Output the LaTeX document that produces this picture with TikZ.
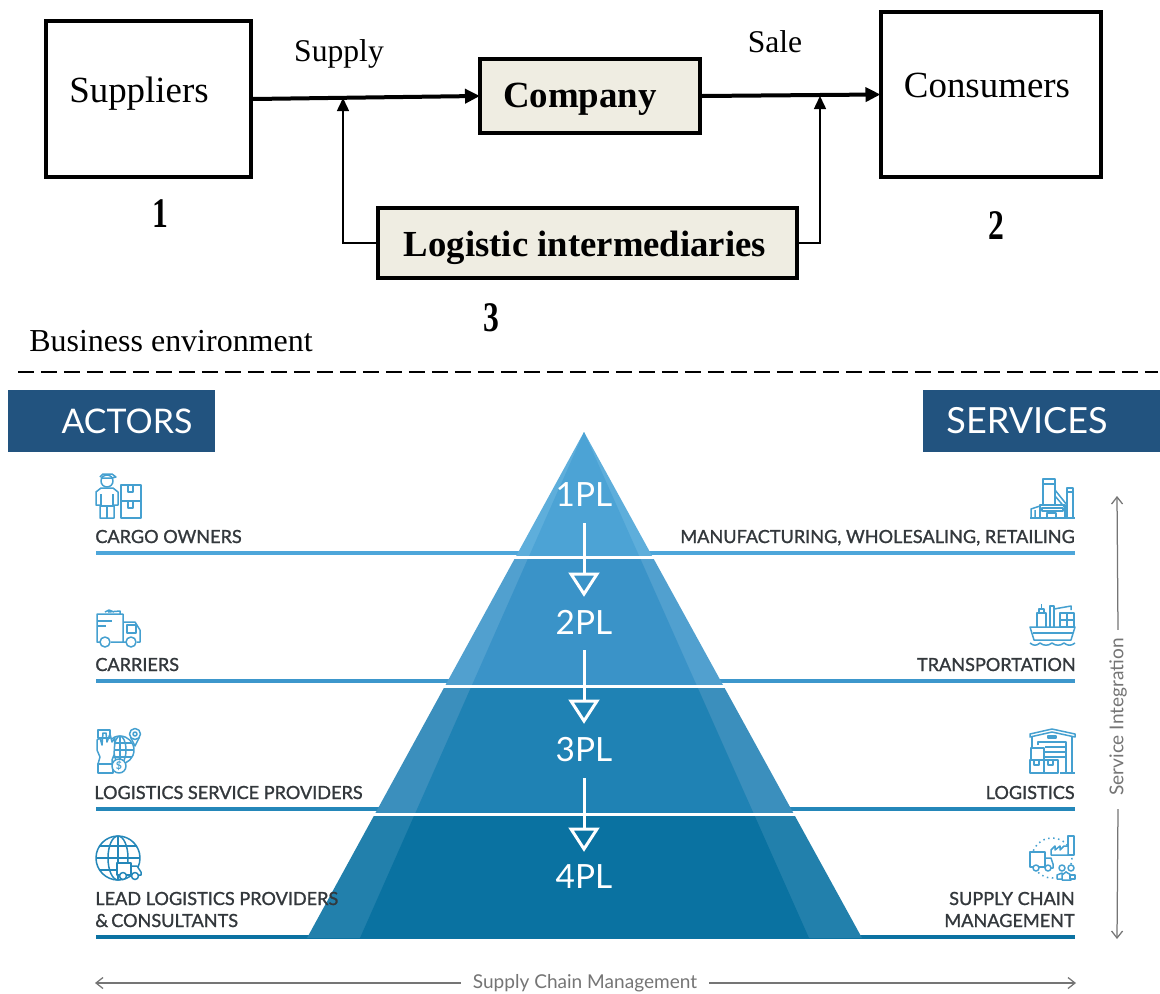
\documentclass[tikz,border=0pt]{standalone}
\usepackage{fontspec}
\usetikzlibrary{arrows.meta,calc}
\setmainfont{Liberation Serif}
\newfontfamily\latofont{Lato}
\newfontfamily\latomed[FakeBold=1.2]{Lato}
\definecolor{hdr}{HTML}{22537F}
\definecolor{boxfill}{HTML}{EFEDE2}
\definecolor{icn}{HTML}{45A0D0}
\definecolor{txt}{HTML}{33383C}
\definecolor{gry}{HTML}{757575}
\definecolor{lineA}{HTML}{4DA6DA}
\definecolor{lineB}{HTML}{3D97CC}
\definecolor{lineC}{HTML}{2487B9}
\definecolor{lineD}{HTML}{0B72A2}
\definecolor{outA}{HTML}{5EAEDB}
\definecolor{inA}{HTML}{4CA3D5}
\definecolor{outB}{HTML}{51A0CF}
\definecolor{inB}{HTML}{3A93C8}
\definecolor{outC}{HTML}{3B8FBD}
\definecolor{inC}{HTML}{1F82B4}
\definecolor{outD}{HTML}{2280AC}
\definecolor{inD}{HTML}{0A72A1}
\tikzset{
  x=0.02cm,y=-0.02cm,
  plainbox/.style={draw=black,line width=0.08cm,fill=white,inner sep=0pt,align=center},
  palebox/.style={plainbox,fill=boxfill,font=\fontsize{21}{25}\selectfont\bfseries},
  serifbig/.style={font=\fontsize{21}{25}\selectfont,inner sep=0pt},
  serifmid/.style={font=\fontsize{18}{22}\selectfont,inner sep=0pt},
  numeral/.style={font=\fontsize{24}{28}\selectfont\bfseries,inner sep=0pt,xscale=0.75},
  thickarrow/.style={line width=0.08cm,shorten >=-0.04cm,-{Triangle[length=0.3cm,width=0.28cm]}},
  thinarrow/.style={line width=0.03cm,-{Triangle[length=0.26cm,width=0.24cm]}},
  header/.style={fill=hdr,draw=none},
  headertext/.style={text=white,font=\latofont\fontsize{20.5}{24}\selectfont,inner sep=0pt},
  pltext/.style={text=white,font=\latofont\fontsize{19}{24}\selectfont,inner sep=0pt},
  label/.style={text=txt,font=\latomed\fontsize{10.3}{12}\selectfont,inner sep=0pt},
  rule/.style={line width=0.08cm},
  icon/.style={draw=icn,line width=0.03cm,line join=round},
  whitearrow/.style={draw=white,line width=0.06cm,line join=miter},
  grayarrow/.style={draw=gry,line width=0.025cm,-{Straight Barb[length=0.14cm,width=0.22cm]}},
  graytext/.style={text=gry,font=\latofont\fontsize{10.85}{12}\selectfont,inner sep=0pt}
}
\newcommand{\pyrband}[4]{%
  \begin{scope}
    \clip (0,#1) rectangle (1160,#2);
    \fill[#3] (584,432) -- (307,938) -- (862,938) -- cycle;
    \fill[#4] (584,432) -- (360,938) -- (809,938) -- cycle;
  \end{scope}}
\newcommand{\whitedown}[2]{%
  \draw[whitearrow] (584,#1) -- (584,#2);
  \draw[whitearrow] (571,#2) -- (597,#2) -- (584,#2+20) -- cycle;}
\begin{document}
\begin{tikzpicture}
\useasboundingbox (0,0) rectangle (1160,994);
\fill[white] (0,0) rectangle (1160,994);

% top flow diagram
\node[plainbox,minimum width=0.02cm*205,minimum height=0.02cm*156,serifbig] (sup) at (148.5,99) {};
\node[serifbig,anchor=center] (suptext) at (139,93.5) {Suppliers};
\node[plainbox,minimum width=0.02cm*220,minimum height=0.02cm*165] (con) at (990.5,94.5) {};
\node[serifbig] (context) at (987,85) {Consumers};
\node[palebox,minimum width=0.02cm*220,minimum height=0.02cm*74] (comp) at (590,96) {};
\node[font=\fontsize{21}{25}\selectfont\bfseries,inner sep=0pt] (comptext) at (580,99) {Company};
\node[palebox,minimum width=0.02cm*419,minimum height=0.02cm*70] (log) at (587.5,243) {};
\node[font=\fontsize{20.9}{25}\selectfont\bfseries,inner sep=0pt] (logtext) at (585,248) {Logistic intermediaries};
\coordinate (ja) at (343,98);
\coordinate (jb) at (820,96);
\draw[thickarrow] (sup.east) -- (comp.west);
\draw[thickarrow] (comp.east) -- (con.west);
\draw[thinarrow] (log.west) -| (ja);
\draw[thinarrow] (log.east) -| (jb);
\node[serifmid] (lsupply) at (339,54) {Supply};
\node[serifmid] (lsale) at (775,42) {Sale};
\node[numeral] (n1) at (160,214) {1};
\node[numeral] (n2) at (996,226) {2};
\node[numeral] (n3) at (491,318) {3};
\node[font=\fontsize{18.2}{22}\selectfont,inner sep=0pt,anchor=base west] (env) at (29,351) {Business environment};
\coordinate (da) at (18,372);
\coordinate (db) at (1158,372);
\draw[line width=0.03cm,dash pattern=on 0.33cm off 0.13cm] (da) -- (db);

% headers
\fill[header] (8,390) rectangle (215,452);
\fill[header] (923,390) rectangle (1160,452);
\node[headertext,font=\latofont\fontsize{19.3}{24}\selectfont] (hact) at (127,421) {ACTORS};
\node[headertext] (hser) at (1027,421) {SERVICES};

% rules
\draw[rule,lineA] (96,553) -- (1075,553);
\draw[rule,lineB] (96,681) -- (1075,681);
\draw[rule,lineC] (96,809) -- (1075,809);
\draw[rule,lineD] (96,937) -- (1075,937);

% pyramid
\pyrband{431}{555}{outA}{inA}
\pyrband{559}{684}{outB}{inB}
\pyrband{688}{812}{outC}{inC}
\pyrband{816}{939}{outD}{inD}
\node[pltext] (p1) at (584,495) {1PL};
\node[pltext] (p2) at (584,622) {2PL};
\node[pltext] (p3) at (584,750) {3PL};
\node[pltext] (p4) at (584,877) {4PL};
\whitedown{523}{574}
\whitedown{650}{701}
\whitedown{778}{829}

% left labels
\node[label,anchor=base west] (a1) at (95,543) {CARGO OWNERS};
\node[label,anchor=base west] (a2) at (95,671) {CARRIERS};
\node[label,anchor=base west] (a3) at (94,799) {LOGISTICS SERVICE PROVIDERS};
\node[label,anchor=base west] (a4) at (95,905) {LEAD LOGISTICS PROVIDERS};
\node[label,anchor=base west] (a5) at (95,927) {\&\,CONSULTANTS};
% right labels
\node[label,anchor=base east] (s1) at (1075,543) {MANUFACTURING, WHOLESALING, RETAILING};
\node[label,anchor=base east] (s2) at (1076,671) {TRANSPORTATION};
\node[label,anchor=base east] (s3) at (1075,799) {LOGISTICS};
\node[label,anchor=base east] (s4) at (1075,905) {SUPPLY CHAIN};
\node[label,anchor=base east] (s5) at (1075,927) {MANAGEMENT};

% side axes
\node[graytext,rotate=90] (vint) at (1118,717) {Service Integration};
\node[graytext] (hsc) at (585,983) {Supply Chain Management};
\coordinate (vt) at (1117,496);
\coordinate (vb) at (1117,939);
\coordinate (hl) at (95,983);
\coordinate (hr) at (1076,983);
\draw[grayarrow] (vint.east) ++(0,-8) -- (vt);
\draw[grayarrow] (vint.west) ++(0,13) -- (vb);
\draw[grayarrow] (hsc.west) ++(-12,0) -- (hl);
\draw[grayarrow] (hsc.east) ++(12,0) -- (hr);

% icon: cargo owner
\begin{scope}[icon]
  \draw (107,481) circle (6);
  \draw (100,477) -- (103,474) -- (112,474) -- (116,477) -- (112,478) -- (101,478);
  \draw (101,488) -- (113,488) -- (118,492) -- (118,505) -- (114,505) -- (114,518) -- (100,518) -- (100,505) -- (96,505) -- (96,492) -- cycle;
  \draw (101,494) -- (101,505) (113,494) -- (113,505) (107,506) -- (107,518) (100,506) -- (114,506);
  \draw (121,485) rectangle (141,501);
  \draw (121,501) rectangle (141,518);
  \draw (128,485) -- (128,492) -- (133,492) -- (133,485);
  \draw (128,501) -- (128,508) -- (133,508) -- (133,501);
\end{scope}
% icon: truck
\begin{scope}[icon]
  \draw (100,642) -- (97,642) -- (97,614) -- (123,614) -- (123,642) (111,642) -- (126,642) (137,642) -- (140,642) -- (140,630) -- (135,622) -- (123,622);
  \draw (105,612) -- (109,610) -- (114,612) (108,612) -- (120,611) -- (120,614);
  \draw (127,625) rectangle (136,633);
  \draw (97,621) -- (112,621) (97,626) -- (106,626);
  \draw (105,642) circle (5);
  \draw (131,642) circle (5);
\end{scope}
% icon: logistics service
\begin{scope}[icon]
  \draw (120,750) circle (14);
  \draw (120,750) ellipse (6 and 14);
  \draw (106,750) -- (134,750) (108,743) -- (132,743) (108,757) -- (132,757) (120,736) -- (120,764);
  \fill[white,draw=icn] (100,757) -- (97,750) -- (97,740) -- (100,738) -- (102,745) -- (103,733) -- (106,733) -- (107,742) -- (110,734) -- (112,742) -- (115,738) -- (114,755) -- (112,760) -- (112,764) -- (98,764) -- cycle;
  \draw (98,764) rectangle (113,773);
  \draw[fill=white] (119,766) circle (7);
  \node[text=icn,font=\latofont\fontsize{6}{6}\selectfont\bfseries,inner sep=0pt] (dollar) at (119,766) {\$};
  \draw (135,734) circle (5.5);
  \draw (135,734) circle (2);
  \draw (130.5,737) -- (135,746) -- (139.5,737);
  \draw (98,730) rectangle (110,738);
\end{scope}
% icon: global truck
\begin{scope}[draw=lineC,line width=0.03cm,line join=round]
  \draw (118,858) circle (22);
  \draw (118,858) ellipse (10 and 22);
  \draw (118,836) -- (118,880) (96,858) -- (140,858) (100,846) -- (136,846) (100,870) -- (116,870);
  \draw[fill=white] (117,863) rectangle (131,875);
  \draw[fill=white] (131,866) -- (137,866) -- (141,872) -- (141,875) -- (131,875) -- cycle;
  \draw[fill=white] (123,876) circle (3.5);
  \draw[fill=white] (135,876) circle (3.5);
\end{scope}
% icon: factory
\begin{scope}[icon]
  \draw (1030,518) -- (1075,518);
  \draw (1043,479) rectangle (1055,505);
  \draw (1043,484) -- (1055,484);
  \draw (1067,488) rectangle (1073,518);
  \draw (1066,492) -- (1074,492);
  \draw (1055,490) -- (1067,505) (1055,496) -- (1067,510);
  \draw (1040,518) -- (1040,505) -- (1065,505) -- (1065,518);
  \draw (1042,508) rectangle (1063,511);
  \draw (1047,518) rectangle (1056,513);
  \draw (1031,518) -- (1031,509) -- (1040,506) (1035,518) -- (1035,510);
\end{scope}
% icon: ship
\begin{scope}[icon]
  \draw (1030,627) -- (1075,627) -- (1071,640) -- (1034,640) -- cycle;
  \draw (1033,633) -- (1073,633);
  \draw (1037,627) -- (1037,613) -- (1046,613) -- (1046,627) (1039,613) -- (1039,609) -- (1044,609) -- (1044,613) (1041.5,609) -- (1041.5,604);
  \draw (1050,627) -- (1050,606) -- (1054,606) -- (1054,627);
  \draw (1054,609) -- (1071,606) -- (1071,610);
  \draw (1060,620) rectangle (1074,627);
  \draw (1060,613) rectangle (1074,620);
  \draw (1067,613) -- (1067,627);
  \draw (1030,643) .. controls (1034,646) and (1036,646) .. (1040,643) .. controls (1044,646) and (1048,646) .. (1052,643) .. controls (1056,646) and (1060,646) .. (1064,643) .. controls (1068,646) and (1071,646) .. (1075,643);
\end{scope}
% icon: warehouse
\begin{scope}[icon]
  \draw (1030,734) -- (1052,729) -- (1075,734) -- (1075,737) -- (1052,732) -- (1030,737) -- cycle;
  \draw (1032,737) -- (1032,748) (1072,736) -- (1072,773);
  \draw (1048,736) rectangle (1056,738);
  \draw (1038,745) -- (1038,742) -- (1066,742) -- (1066,773);
  \draw (1045,747) -- (1066,747) (1045,752) -- (1066,752) (1045,757) -- (1066,757) (1060,773) -- (1075,773);
  \draw (1030,760) rectangle (1044,773);
  \draw (1044,760) rectangle (1058,773);
  \draw (1031,748) rectangle (1044,760);
  \draw (1034,760) -- (1034,765) -- (1039,765) -- (1039,760);
  \draw (1048,760) -- (1048,765) -- (1053,765) -- (1053,760);
\end{scope}
% icon: supply chain
\begin{scope}[icon]
  \draw[dotted] (1052,858) circle (20);
  \draw[fill=white] (1030,852) rectangle (1045,867);
  \draw[fill=white] (1045,858) -- (1051,858) -- (1053,864) -- (1053,868) -- (1045,868) -- cycle;
  \draw[fill=white] (1036,868) circle (3);
  \draw[fill=white] (1048,868) circle (3);
  \draw[fill=white] (1068,836) rectangle (1074,855);
  \draw[fill=white] (1051,855) -- (1051,850) -- (1055,846) -- (1055,850) -- (1060,846) -- (1060,850) -- (1064,846) -- (1068,846) -- (1068,855) -- cycle;
  \draw[fill=white] (1062,868) circle (3);
  \draw[fill=white] (1071,868) circle (3);
  \draw[fill=white] (1062,880) -- (1062,875) -- (1066,872) -- (1071,875) -- (1071,880) -- cycle;
  \draw[fill=white] (1057,879) -- (1057,875) -- (1062,873) -- (1062,879) -- cycle;
  \draw[fill=white] (1070,879) -- (1070,875) -- (1075,875) -- (1075,879) -- cycle;
\end{scope}
\end{tikzpicture}
\end{document}
